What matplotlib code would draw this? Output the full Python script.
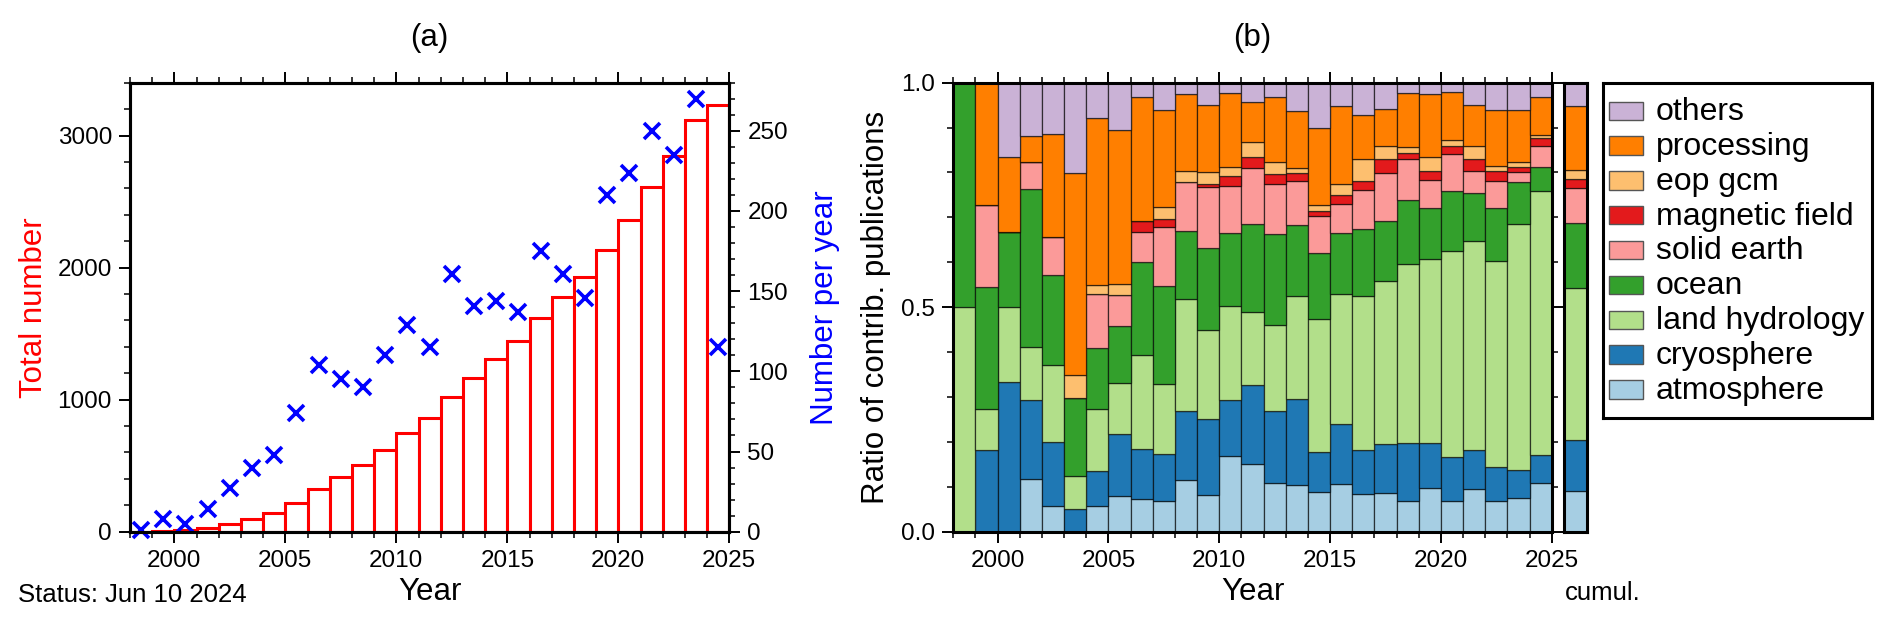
import numpy as np
import matplotlib
matplotlib.use("Agg")
import matplotlib.pyplot as plt
from matplotlib.patches import Rectangle
from matplotlib.ticker import MultipleLocator

plt.rcParams['font.family'] = ['Liberation Sans', 'DejaVu Sans']

# ---- data -------------------------------------------------------------
years = np.arange(1998, 2025)

per_year = [1, 8, 5, 14, 27, 40, 48, 74, 104, 95, 90, 110, 129, 115, 161,
            141, 144, 137, 175, 161, 146, 210, 224, 250, 235, 270, 115]
total = [1, 9, 14, 28, 55, 95, 143, 217, 321, 416, 506, 616, 745, 860, 1021,
         1162, 1306, 1443, 1618, 1779, 1925, 2135, 2359, 2609, 2844, 3114, 3229]

categories = ['atmosphere', 'cryosphere', 'land hydrology', 'ocean', 'solid earth',
              'magnetic field', 'eop gcm', 'processing', 'others']
cat_colors = ['#a6cee3', '#1f78b4', '#b2df8a', '#33a02c', '#fb9a99',
              '#e31a1c', '#fdbf6f', '#ff7f00', '#cab2d6']

atmosphere = [0, 0, 0, .117, .057, 0, .058, .080, .073, .069, .115, .082, .169, .151,
              .108, .104, .088, .106, .084, .087, .069, .098, .069, .095, .069, .076, .109]
cryosphere = [0, .182, .333, .176, .143, .050, .078, .137, .111, .104, .154, .169, .124, .176,
              .160, .191, .090, .133, .099, .108, .128, .099, .097, .087, .076, .061, .062]
land_hydrology = [.5, .091, .167, .118, .171, .074, .137, .115, .209, .157, .249, .198, .209, .163,
                  .193, .231, .295, .290, .342, .364, .399, .411, .460, .466, .459, .548, .587]
ocean = [.5, .273, .167, .353, .200, .174, .137, .126, .208, .217, .152, .183, .164, .195,
         .201, .156, .148, .137, .150, .134, .143, .113, .132, .107, .117, .093, .054]
solid_earth = [0, .182, 0, .059, .086, 0, .119, .070, .067, .131, .108, .136, .105, .126,
               .112, .098, .082, .064, .085, .107, .091, .062, .083, .048, .061, .024, .048]
magnetic_field = [0, 0, 0, 0, 0, 0, 0, 0, .024, .018, 0, .007, .022, .024,
                  .023, .019, .011, .020, .022, .030, .013, .020, .019, .028, .022, .011, .016]
eop_gcm = [0, 0, 0, 0, 0, .052, .020, .023, 0, .027, .025, .026, .019, .033,
           .027, .011, .013, .024, .047, .029, .013, .031, .012, .027, .010, .010, .007]
processing = [0, .273, .167, .059, .229, .449, .372, .344, .276, .217, .172, .150, .164, .088,
              .144, .128, .171, .175, .099, .082, .121, .140, .107, .093, .126, .117, .085]
others = [0, 0, .167, .118, .114, .200, .079, .104, .033, .061, .026, .048, .023, .044,
          .033, .063, .102, .051, .071, .059, .024, .028, .022, .048, .061, .061, .033]

cumul = [.091, .113, .338, .145, .079, .019, .020, .143, .051]

ratios = [atmosphere, cryosphere, land_hydrology, ocean, solid_earth,
          magnetic_field, eop_gcm, processing, others]

# ---- figure -----------------------------------------------------------
W, H = 1892, 624
fig = plt.figure(figsize=(W / 100, H / 100), dpi=100)

def fx(px):
    return px / W

def fy(px):
    return 1 - px / H

frame_lw = 2.2
tick_fs = 17.5
label_fs = 22.5

ax_bottom, ax_top = 531.7, 82.7
ax_h = (ax_bottom - ax_top) / H

# ---- panel (a) --------------------------------------------------------
ax1 = fig.add_axes([fx(130), fy(ax_bottom), fx(729.3 - 130), ax_h])
ax1.bar(years, total, width=1, align='edge', facecolor='white',
        edgecolor='red', linewidth=2.2)
ax1.set_xlim(1998, 2025)
ax1.set_ylim(0, 3400)
ax1.xaxis.set_major_locator(MultipleLocator(5))
ax1.xaxis.set_minor_locator(MultipleLocator(1))
ax1.yaxis.set_major_locator(MultipleLocator(1000))
ax1.yaxis.set_minor_locator(MultipleLocator(200))
ax1.set_ylabel('Total number', color='red', fontsize=label_fs)
ax1.yaxis.set_label_coords(-0.135, 0.5)
ax1.set_xlabel('Year', fontsize=label_fs)
ax1.xaxis.set_label_coords(0.5, -0.101)

ax2 = ax1.twinx()
ax2.plot(years + 0.5, per_year, linestyle='none', marker='x', color='blue',
         markersize=11, markeredgewidth=2.6, clip_on=False)
ax2.set_ylim(0, 280)
ax2.yaxis.set_major_locator(MultipleLocator(50))
ax2.yaxis.set_minor_locator(MultipleLocator(10))
ax2.set_ylabel('Number per year', color='blue', fontsize=label_fs)
ax2.yaxis.set_label_coords(1.135, 0.5)

ax1.text(0.5, 1.10, '(a)', transform=ax1.transAxes, ha='center', va='center',
         fontsize=label_fs)

# ---- panel (b) --------------------------------------------------------
axb = fig.add_axes([fx(953.3), fy(ax_bottom), fx(1551.7 - 953.3), ax_h])
bottom = np.zeros(len(years))
for vals, col in zip(ratios, cat_colors):
    axb.bar(years, vals, width=1, align='edge', bottom=bottom, color=col,
            edgecolor=(0, 0, 0, 0.65), linewidth=0.9)
    bottom += np.array(vals)
axb.set_xlim(1998, 2025)
axb.set_ylim(0, 1)
axb.xaxis.set_major_locator(MultipleLocator(5))
axb.xaxis.set_minor_locator(MultipleLocator(1))
axb.yaxis.set_major_locator(MultipleLocator(0.5))
axb.yaxis.set_minor_locator(MultipleLocator(0.1))
axb.yaxis.set_major_formatter(matplotlib.ticker.FormatStrFormatter('%.1f'))
axb.set_ylabel('Ratio of contrib. publications', fontsize=label_fs)
axb.yaxis.set_label_coords(-0.104, 0.5)
axb.set_xlabel('Year', fontsize=label_fs)
axb.xaxis.set_label_coords(0.5, -0.101)
axb.text(0.5, 1.10, '(b)', transform=axb.transAxes, ha='center', va='center',
         fontsize=label_fs)

axc = fig.add_axes([fx(1563.5), fy(ax_bottom), fx(1586.7 - 1563.5), ax_h])
cb = 0.0
for v, col in zip(cumul, cat_colors):
    axc.bar(0, v, width=1, align='edge', bottom=cb, color=col,
            edgecolor=(0, 0, 0, 0.65), linewidth=0.9)
    cb += v
axc.set_xlim(0, 1)
axc.set_ylim(0, 1)
axc.set_xticks([])
axc.set_yticks([])

# ---- styling ----------------------------------------------------------
for ax in (ax1, ax2, axb, axc):
    for sp in ax.spines.values():
        sp.set_linewidth(frame_lw)

ax1.tick_params(axis='x', which='both', top=True, bottom=True, direction='out')
ax1.tick_params(axis='y', which='both', left=True, right=False, direction='out')
ax2.tick_params(axis='y', which='both', right=True, left=False, direction='out')
axb.tick_params(axis='x', which='both', top=True, bottom=True, direction='out')
axb.tick_params(axis='y', which='both', left=True, right=True, direction='out')
for ax in (ax1, ax2, axb):
    ax.tick_params(which='major', length=8, width=1.4, labelsize=tick_fs, pad=5)
    ax.tick_params(which='minor', length=4, width=1.1)

# ---- legend (drawn in its own box, pixel units) -----------------------
lg_x0, lg_x1, lg_y0, lg_y1 = 1603.3, 1871.7, 82.7, 418.3
lg = fig.add_axes([fx(lg_x0), fy(lg_y1), fx(lg_x1 - lg_x0), (lg_y1 - lg_y0) / H])
lg.set_xlim(0, lg_x1 - lg_x0)
lg.set_ylim(lg_y1 - lg_y0, 0)
lg.set_xticks([])
lg.set_yticks([])
for sp in lg.spines.values():
    sp.set_linewidth(frame_lw)
row_h = 34.8
for i, (name, col) in enumerate(zip(categories[::-1], cat_colors[::-1])):
    yc = 28.2 + i * row_h
    lg.add_patch(Rectangle((6, yc - 9.2), 34, 18.4, facecolor=col,
                           edgecolor='#555555', linewidth=1))
    lg.text(52.5, yc + 9.2, name, fontsize=23, ha='left', va='baseline')

# ---- notes ------------------------------------------------------------
fig.text(fx(18), fy(595), 'Status: Jun 10 2024', fontsize=18.5, ha='left', va='center')
fig.text(fx(1565), fy(593), 'cumul.', fontsize=18.5, ha='left', va='center')

fig.savefig('out.png', dpi=100)
